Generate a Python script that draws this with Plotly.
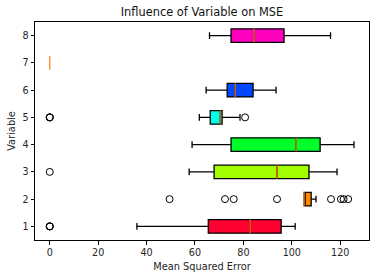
import plotly.graph_objects as go

# ---- data ----
variables = [1, 2, 3, 4, 5, 6, 7, 8]
q1 = [65.5, 105.1, 67.9, 74.9, 66.3, 73.3, 0.0, 74.9]
median = [82.8, 105.1, 93.9, 101.8, 70.4, 76.6, 0.0, 84.4]
q3 = [95.6, 108.0, 107.1, 111.7, 71.2, 84.0, 0.0, 96.8]
lower_whisker = [36.0, 105.1, 57.6, 58.8, 61.8, 64.6, 0.0, 66.0]
upper_whisker = [101.4, 110.0, 118.7, 125.7, 78.6, 93.5, 0.0, 116.0]
box_colors = ["#ff0030", "#ff8c00", "#a2ff00", "#00ff2a",
              "#00ffe8", "#0047ff", "#8c00ff", "#ff00bf"]

outlier_var = [1, 1, 1, 2, 2, 2, 2, 2, 2, 2, 2, 3, 5, 5, 5, 5]
outlier_val = [0.0, 0.0, 0.0, 49.5, 72.4, 76.0, 93.9, 116.2, 120.3, 121.4, 123.3,
               0.0, 0.0, 0.0, 0.0, 80.7]

x_ticks = [0, 20, 40, 60, 80, 100, 120]
title_text = "Influence of Variable on MSE"
x_label = "Mean Squared Error"
y_label = "Variable"

BOX_W = 0.5
FONT = "DejaVu Sans"

fig = go.Figure()
for i, v in enumerate(variables):
    collapsed = q1[i] == q3[i] == lower_whisker[i] == upper_whisker[i]
    fig.add_trace(go.Box(
        orientation="h",
        y=[v],
        q1=[q1[i]], median=[median[i]], q3=[q3[i]],
        lowerfence=[lower_whisker[i]], upperfence=[upper_whisker[i]],
        fillcolor=box_colors[i],
        line=dict(color="rgba(0,0,0,0)" if collapsed else "black", width=1.3),
        width=BOX_W,
        whiskerwidth=0.5,
        boxpoints=False,
        hoverinfo="skip",
        showlegend=False,
    ))

# orange median lines
mx, my = [], []
for i, v in enumerate(variables):
    mx += [median[i], median[i], None]
    my += [v - BOX_W / 2, v + BOX_W / 2, None]
fig.add_trace(go.Scatter(x=mx, y=my, mode="lines",
                         line=dict(color="#ff7f0e", width=1.2),
                         showlegend=False, hoverinfo="skip"))

# outliers
fig.add_trace(go.Scatter(x=outlier_val, y=outlier_var, mode="markers",
                         marker=dict(symbol="circle-open", size=7,
                                     color="black", line=dict(width=1)),
                         showlegend=False, hoverinfo="skip"))

TXT = "#262626"
axis_common = dict(showline=True, mirror=True, linecolor="black", linewidth=1,
                   ticks="outside", ticklen=3.5, tickwidth=1, tickcolor="black",
                   showgrid=False, zeroline=False, automargin=False,
                   tickfont=dict(family=FONT, size=9.6, color=TXT))

fig.update_xaxes(range=[-6.1, 131.9], tickvals=x_ticks,
                 title=dict(text=x_label, font=dict(family=FONT, size=9.8, color=TXT),
                            standoff=6),
                 **axis_common)
fig.update_yaxes(range=[0.5, 8.5], tickvals=variables,
                 title=dict(text=y_label, font=dict(family=FONT, size=9.8, color=TXT),
                            standoff=5),
                 **axis_common)

fig.update_layout(
    width=380, height=278,
    margin=dict(l=35, r=11, t=22, b=38),
    paper_bgcolor="white", plot_bgcolor="white",
    title=dict(text=title_text, x=0.5, xref="paper", y=1 - 12.5 / 278, yref="container",
               xanchor="center", yanchor="middle",
               font=dict(family=FONT, size=11.4, color="#111")),
    showlegend=False,
)

fig.write_html("out.html", config={"displayModeBar": False},
               post_script="document.body.style.margin='0px';document.body.style.overflow='hidden';")
